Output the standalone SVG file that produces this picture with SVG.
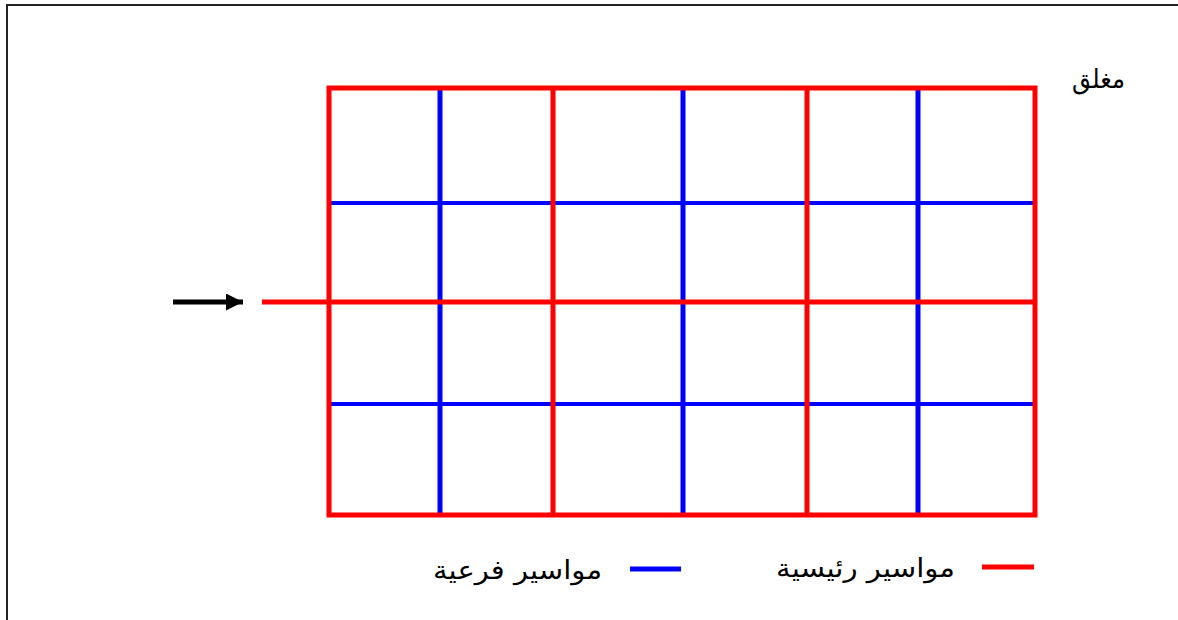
<svg xmlns="http://www.w3.org/2000/svg" width="1178" height="620" viewBox="0 0 1178 620">
<style>
.main{stroke:#ff0000;stroke-width:5;fill:none}
.sub{stroke:#0000ff;stroke-width:5;fill:none}
.subh{stroke:#0000ff;stroke-width:4;fill:none}
.lbl{font-family:"DejaVu Sans","Liberation Sans",sans-serif;font-size:26px;fill:#000}
</style>
<defs>
<marker id="ah" markerUnits="userSpaceOnUse" markerWidth="17" markerHeight="17" refX="17" refY="8.5" orient="auto">
<path d="M0,0 L17,8.5 L0,17 Z" fill="#000"/>
</marker>
</defs>
<rect width="1178" height="620" fill="#fff"/>
<g id="frame" stroke="#222" stroke-width="2" fill="none">
<path d="M7,620 V5 H1178"/>
</g>
<g id="connectors">
<line id="branch-h1" class="subh" x1="329" y1="203" x2="1035" y2="203"/>
<line id="branch-h2" class="subh" x1="329" y1="404" x2="1035" y2="404"/>
<line id="branch-v1" class="sub" x1="440" y1="88" x2="440" y2="515"/>
<line id="branch-v2" class="sub" x1="683" y1="88" x2="683" y2="515"/>
<line id="branch-v3" class="sub" x1="918" y1="88" x2="918" y2="515"/>
<line id="main-v1" class="main" x1="553" y1="88" x2="553" y2="515"/>
<line id="main-v2" class="main" x1="807" y1="88" x2="807" y2="515"/>
<line id="main-h" class="main" x1="262" y1="302" x2="1035" y2="302"/>
<rect id="main-loop" class="main" x="329" y="88" width="706" height="427"/>
<line id="inflow" stroke="#000" stroke-width="5" x1="173" y1="302" x2="243" y2="302" marker-end="url(#ah)"/>
</g>
<g id="label-closed">
<text class="lbl" x="1125" y="88" text-anchor="end" font-size="30" textLength="53" lengthAdjust="spacingAndGlyphs">مغلق</text>
</g>
<g id="legend-main">
<line class="main" x1="982" y1="567" x2="1034" y2="567"/>
<text class="lbl" x="955" y="577" text-anchor="end" textLength="179" lengthAdjust="spacingAndGlyphs">مواسير رئيسية</text>
</g>
<g id="legend-branch">
<line class="sub" x1="630" y1="569" x2="681" y2="569"/>
<text class="lbl" x="602" y="579" text-anchor="end" textLength="169" lengthAdjust="spacingAndGlyphs">مواسير فرعية</text>
</g>
</svg>
